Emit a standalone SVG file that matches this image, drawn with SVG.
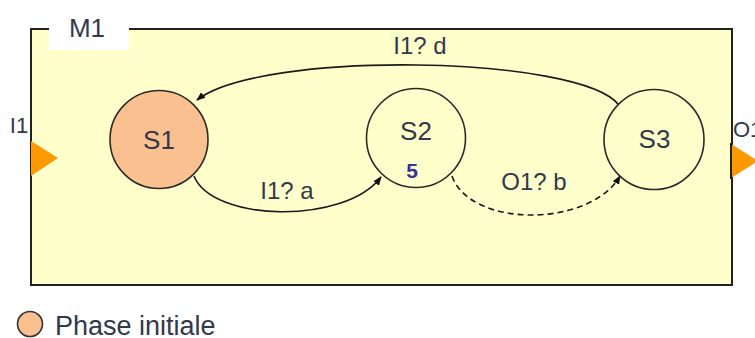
<svg xmlns="http://www.w3.org/2000/svg" width="755" height="338" viewBox="0 0 755 338">
<style>
text{font-family:"Liberation Sans",Arial,sans-serif;fill:#33384a}
.st{font-size:26px;text-anchor:middle}
.lb{font-size:24px;text-anchor:middle}
.edge{fill:none;stroke:#1a1a1a;stroke-width:1.6}
.dash{stroke-dasharray:6 4}
.state{stroke:#2a2a2a;stroke-width:1.6}
.port{fill:#FF9900}
</style>
<defs>
<marker id="ah" viewBox="0 0 10 10" refX="9" refY="5" markerWidth="9" markerHeight="9" markerUnits="userSpaceOnUse" orient="auto">
<path d="M0,1 L10,5 L0,9 Z" fill="#111"/>
</marker>
</defs>
<g id="M1">
<rect x="31" y="29" width="701" height="256" fill="#FFFFCC" stroke="#222" stroke-width="2"/>
<rect x="49" y="18" width="80" height="32" fill="#fff"/>
<text x="87" y="37" font-size="26" text-anchor="middle">M1</text>
</g>
<g id="port-I1">
<polygon class="port" points="31,141 58,158 31,176"/>
<text x="19" y="133" font-size="22" text-anchor="middle">I1</text>
</g>
<g id="port-O1">
<polygon class="port" points="731,144 758,161 731,178"/>
<line x1="731" y1="143" x2="731" y2="179" stroke="#222" stroke-width="2"/>
<text x="733" y="137" font-size="22">O1</text>
</g>
<g id="connectors">
<path class="edge" d="M194,176 C212,222 345,225 381,177" marker-end="url(#ah)"/>
<text class="lb" x="287" y="199">I1? a</text>
<path class="edge dash" d="M452,176 C470,228 590,228 620,176" marker-end="url(#ah)"/>
<text class="lb" x="534" y="190">O1? b</text>
<path class="edge" d="M619,105 C580,55 260,50 197,100" marker-end="url(#ah)"/>
<text class="lb" x="420" y="54">I1? d</text>
</g>
<g id="S1">
<circle class="state" cx="159" cy="139.5" r="49" fill="#FAC090"/>
<text class="st" x="159" y="149">S1</text>
</g>
<g id="S2">
<circle class="state" cx="416" cy="138" r="49.5" fill="#FFFFCC"/>
<text class="st" x="416" y="140">S2</text>
<text x="412" y="178" font-size="21" font-weight="bold" text-anchor="middle" style="fill:#333399">5</text>
</g>
<g id="S3">
<circle class="state" cx="654" cy="139.5" r="50" fill="#FFFFCC"/>
<text class="st" x="654.5" y="148">S3</text>
</g>
<g id="legend">
<circle cx="30" cy="324" r="12.5" fill="#FAC090" stroke="#333" stroke-width="1.6"/>
<text x="55" y="335" font-size="27">Phase initiale</text>
</g>
</svg>
